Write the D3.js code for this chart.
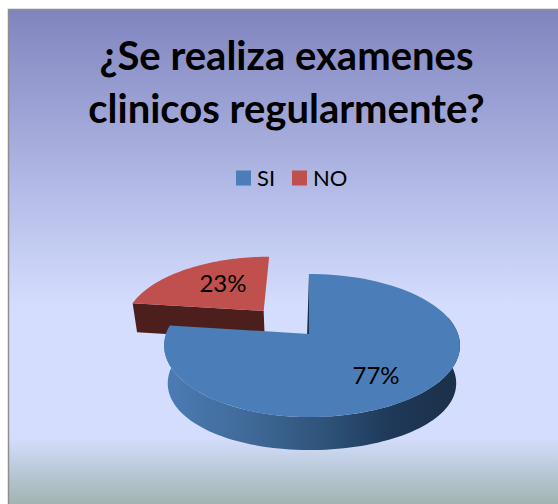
<!DOCTYPE html>
<html><head><meta charset="utf-8">
<style>html,body{margin:0;padding:0;background:#fff}svg{display:block}</style>
<script src="https://cdn.jsdelivr.net/npm/d3@7"></script></head>
<body><svg id="c" width="558" height="504"></svg>
<script>
const titleLines = ["¿Se realiza examenes", "clinicos regularmente?"];
const categories = ["SI", "NO"];
const values = [77, 23];
const labels = ["77%", "23%"];
const topColors = ["#4b7db8", "#c0504d"];

const svg = d3.select("#c");
const defs = svg.append("defs");
const bg = defs.append("linearGradient").attr("id","bg").attr("x1",0).attr("y1",0).attr("x2",0).attr("y2",1);
[[0,"#8084be"],[0.4,"#bac2ec"],[0.58,"#d4ddfd"],[0.84,"#d4ddfd"],[0.92,"#b3c3cf"],[1,"#97ac9e"]]
  .forEach(s=>bg.append("stop").attr("offset",s[0]).attr("stop-color",s[1]));
const wall = defs.append("linearGradient").attr("id","wall").attr("gradientUnits","userSpaceOnUse")
  .attr("x1",165).attr("y1",0).attr("x2",460).attr("y2",0);
[[0,"#4b7cb4"],[0.3,"#3f6897"],[0.55,"#2e5278"],[0.75,"#1f3a5a"],[1,"#1b2f48"]]
  .forEach(s=>wall.append("stop").attr("offset",s[0]).attr("stop-color",s[1]));

svg.append("rect").attr("x",8.5).attr("y",9.5).attr("width",560).attr("height",510)
  .attr("fill","url(#bg)").attr("stroke","#8e8e8e").attr("stroke-width",1.5);

// title
svg.append("g").selectAll("text").data(titleLines).join("text")
  .attr("x",286.5).attr("y",(d,i)=>70+i*53).attr("text-anchor","middle")
  .attr("font-family","Lato, sans-serif").attr("font-weight",700).attr("font-size",40)
  .attr("fill","#000").text(d=>d);

// legend
const legendX = d3.scaleOrdinal().domain(categories).range([236,292]);
const lg = svg.append("g").selectAll("g").data(categories).join("g")
  .attr("transform",d=>`translate(${legendX(d)},170.5)`);
lg.append("rect").attr("width",15).attr("height",15).attr("fill",(d,i)=>topColors[i]);
lg.append("text").attr("x",21).attr("y",15).attr("font-family","Lato, sans-serif")
  .attr("font-size",22).attr("fill","#000").text(d=>d);

// pie with perspective projection
const arcs = d3.pie().sort(null)(values);
const P = 0.161, K = 69.7, CX = 309, CY = 334;
function proj(u, v, skew=0){
  const s = 1/(1-P*v);
  return [CX + (u>0?149:143)*u*s + skew, CY + K*v*s];
}
function low(pt, d){
  return [CX + (pt[0]-CX)*0.975, pt[1] + d];
}
const line = d3.line();
const steps = (a,b)=>d3.range(0,101).map(i=>a+(b-a)*i/100);
const uv = (t,o)=>[Math.sin(t)+o[0], -Math.cos(t)+o[1]];
const offsets = [[0,0],[-0.335,-0.35]];
const redDepth = 29, redSkew = 0.5;

// red slice
{
  const a = arcs[1], o = offsets[1];
  const c = proj(o[0],o[1]);
  const pr = t=>{const q=uv(t,o);return proj(q[0],q[1],redSkew*(q[1]-o[1]));};
  const t0 = pr(a.startAngle);
  svg.append("path").attr("fill","#4d1f1c")
    .attr("d",line([t0,c,low(c,redDepth),low(t0,redDepth)])+"Z");
  const rim = steps(a.startAngle,a.endAngle).map(pr);
  svg.append("path").attr("fill",topColors[1]).attr("d",line([c,...rim])+"Z");
}
// blue slice
{
  const a = arcs[0];
  const o = offsets[0];
  const c = proj(0,0);
  const front = steps(Math.PI*0.42,a.endAngle).map(t=>uv(t,o));
  const tops = front.map(q=>proj(q[0],q[1]));
  const lows = front.map((q,i)=>low(tops[i],33+5*(1-q[1]*q[1])));
  svg.append("path").attr("fill","url(#wall)").attr("d",line([...tops,...lows.reverse()])+"Z");
  const s = proj(...uv(a.startAngle,o));
  svg.append("path").attr("fill","#1c334f").attr("d",line([s,c,[c[0]-3,c[1]+34]])+"Z");
  const rim = steps(a.startAngle,a.endAngle).map(t=>{const q=uv(t,o);return proj(q[0],q[1]);});
  svg.append("path").attr("fill",topColors[0]).attr("d",line([c,...rim])+"Z");
}
// value labels
const labelPos = [[0.41,0.55],[-0.68,-0.81]];
svg.append("g").selectAll("text").data(labels).join("text")
  .attr("x",(d,i)=>proj(...labelPos[i])[0]).attr("y",(d,i)=>proj(...labelPos[i])[1]+8)
  .attr("text-anchor","middle").attr("font-family","Lato, sans-serif").attr("font-size",24)
  .attr("fill","#000").text(d=>d);
</script></body></html>
